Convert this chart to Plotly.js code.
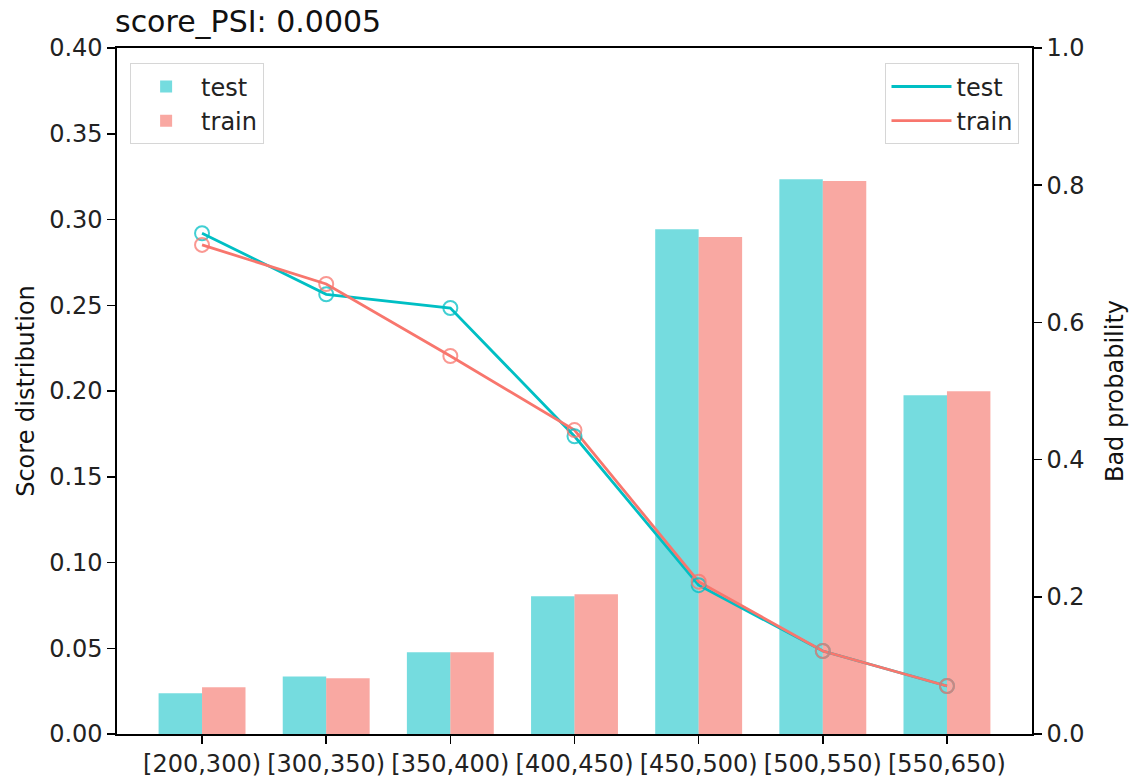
<!DOCTYPE html>
<html>
<head>
<meta charset="utf-8">
<script src="https://cdn.plot.ly/plotly-3.0.1.min.js"></script>
<style>body{margin:0;padding:0;background:#fff;} #chart{width:1133px;height:783px;}</style>
</head>
<body>
<div id="chart"></div>
<script>
const categories = ["[200,300)", "[300,350)", "[350,400)", "[400,450)", "[450,500)", "[500,550)", "[550,650)"];
const testDist = [0.0237, 0.0336, 0.0476, 0.0803, 0.2943, 0.3234, 0.1975];
const trainDist = [0.0272, 0.0325, 0.0476, 0.0815, 0.2898, 0.3224, 0.1998];
const testBad = [0.730, 0.641, 0.621, 0.434, 0.217, 0.121, 0.070];
const trainBad = [0.713, 0.656, 0.551, 0.443, 0.222, 0.121, 0.070];
const leftTicks = [0, 0.05, 0.10, 0.15, 0.20, 0.25, 0.30, 0.35, 0.40];
const rightTicks = [0, 0.2, 0.4, 0.6, 0.8, 1.0];
const titleText = "score_PSI: 0.0005";

const cTest = "#00bfc4", cTrain = "#f8766d";
const font = "DejaVu Sans, sans-serif";
const fs = 24;

const traces = [
  {type: "bar", x: categories, y: testDist, name: "test", width: 0.35, offset: -0.35,
   marker: {color: "rgba(0,191,196,0.54)", line: {width: 0}}, legend: "legend", hoverinfo: "skip"},
  {type: "bar", x: categories, y: trainDist, name: "train", width: 0.35, offset: 0,
   marker: {color: "rgba(245,110,100,0.6)", line: {width: 0}}, legend: "legend", hoverinfo: "skip"},
  {type: "scatter", mode: "lines", x: categories, y: testBad, yaxis: "y2", name: "test",
   line: {color: cTest, width: 2.8}, legend: "legend2", hoverinfo: "skip"},
  {type: "scatter", mode: "lines", x: categories, y: trainBad, yaxis: "y2", name: "train",
   line: {color: cTrain, width: 2.8}, legend: "legend2", hoverinfo: "skip"},
  {type: "scatter", mode: "markers", x: categories, y: testBad, yaxis: "y2", showlegend: false,
   marker: {symbol: "circle-open", size: 14, color: "rgba(0,191,196,0.75)", line: {width: 2}}, hoverinfo: "skip"},
  {type: "scatter", mode: "markers", x: categories, y: trainBad, yaxis: "y2", showlegend: false,
   marker: {symbol: "circle-open", size: 14, color: "rgba(248,118,109,0.75)", line: {width: 2}}, hoverinfo: "skip"}
];

const axisCommon = {showgrid: false, zeroline: false, showline: true, linecolor: "#000", linewidth: 1.6,
  ticks: "outside", ticklen: 8, tickwidth: 1.5, tickcolor: "#000",
  tickfont: {family: font, size: fs, color: "#222"}};

const layout = {
  width: 1133, height: 783,
  margin: {l: 117, r: 101, t: 48, b: 49},
  paper_bgcolor: "#fff", plot_bgcolor: "#fff",
  font: {family: font, size: fs, color: "#000"},
  title: {text: titleText, x: 115/1133, xanchor: "left", y: 1 - 21/783, yanchor: "middle",
          font: {family: font, size: 30, color: "#111"}},
  showlegend: true,
  barmode: "overlay",
  xaxis: Object.assign({}, axisCommon, {type: "category", range: [-0.685, 6.685], mirror: true}),
  yaxis: Object.assign({}, axisCommon, {range: [0, 0.40], tickvals: leftTicks,
          ticktext: leftTicks.map(v => v.toFixed(2)),
          title: {text: "Score distribution", font: {family: font, size: fs, color: "#111"}, standoff: 8}}),
  yaxis2: Object.assign({}, axisCommon, {overlaying: "y", side: "right", range: [0, 1.0], tickvals: rightTicks,
           ticktext: rightTicks.map(v => v.toFixed(1)),
           title: {text: "Bad probability", font: {family: font, size: fs, color: "#111"}, standoff: 22}}),
  legend: {x: 0.014, y: 0.978, xanchor: "left", yanchor: "top", bgcolor: "rgba(255,255,255,0.8)",
           bordercolor: "#d6d6d6", borderwidth: 1.3, font: {family: font, size: fs, color: "#222"},
           itemwidth: 60, tracegroupgap: 6},
  legend2: {x: 0.986, y: 0.978, xanchor: "right", yanchor: "top", bgcolor: "rgba(255,255,255,0.8)",
            bordercolor: "#d6d6d6", borderwidth: 1.3, font: {family: font, size: fs, color: "#222"},
            itemwidth: 60}
};

Plotly.newPlot("chart", traces, layout, {displayModeBar: false, staticPlot: true});
</script>
</body>
</html>
